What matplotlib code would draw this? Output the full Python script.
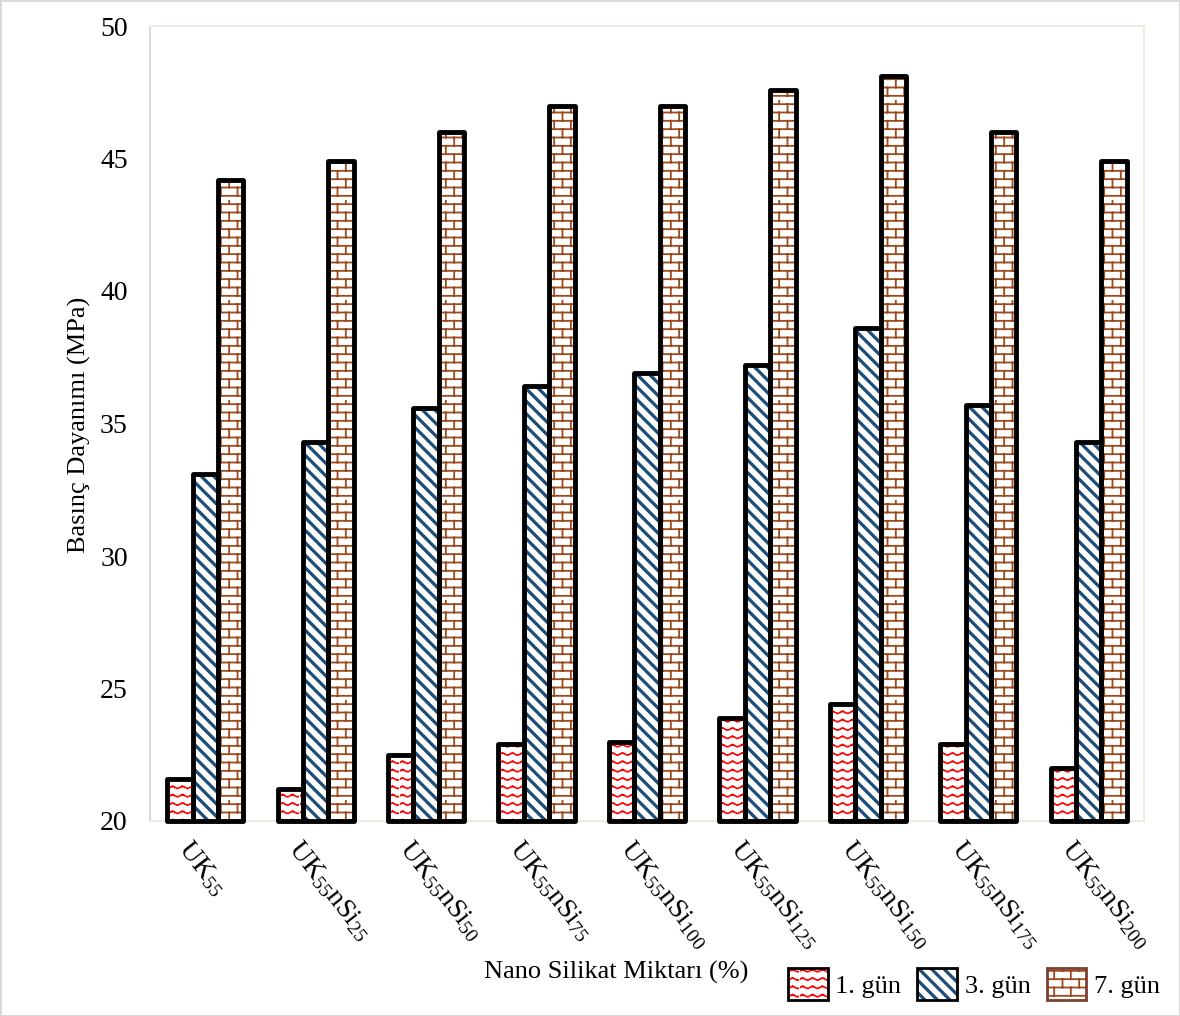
import numpy as np
import matplotlib
matplotlib.use('Agg')
import matplotlib.pyplot as plt
import matplotlib.hatch as mhatch
import matplotlib.transforms as mtransforms
from matplotlib.patches import Patch
from matplotlib.path import Path

## Data
groups = [r'UK$_{55}$', r'UK$_{55}$nSi$_{25}$', r'UK$_{55}$nSi$_{50}$', r'UK$_{55}$nSi$_{75}$',
          r'UK$_{55}$nSi$_{100}$', r'UK$_{55}$nSi$_{125}$', r'UK$_{55}$nSi$_{150}$',
          r'UK$_{55}$nSi$_{175}$', r'UK$_{55}$nSi$_{200}$']
gun1 = [21.6, 21.2, 22.5, 22.9, 23.0, 23.9, 24.4, 22.9, 22.0]
gun3 = [33.1, 34.3, 35.6, 36.4, 36.9, 37.2, 38.6, 35.7, 34.3]
gun7 = [44.2, 44.9, 46.0, 47.0, 47.0, 47.6, 48.1, 46.0, 44.9]
series_labels = ['1. gün', '3. gün', '7. gün']
yticks = [20, 25, 30, 35, 40, 45, 50]


## Custom hatch patterns (wave / thick stripe / brick), unit square = 1 inch tile
class _ListHatch(mhatch.HatchPatternBase):
    char = None

    def __init__(self, hatch, density):
        self.verts = np.empty((0, 2))
        self.codes = np.empty(0, dtype=Path.code_type)
        if hatch.count(self.char):
            v, c = self.build()
            self.verts = np.asarray(v, float)
            self.codes = np.asarray(c, dtype=Path.code_type)
        self.num_vertices = len(self.verts)

    def set_vertices_and_codes(self, vertices, codes):
        vertices[:] = self.verts
        codes[:] = self.codes


class WaveHatch(_ListHatch):
    char = 'o'

    def build(self):
        v, c = [], []
        rows, per = 12, 10
        amp = 0.011
        for i in range(rows):
            y0 = (i + 0.5) / rows
            for k in range(per):
                # upper arc, broken in two dashes
                for t in (np.linspace(0.0, 0.22, 3), np.linspace(0.28, 0.5, 3)):
                    xs = (k + t) / per
                    ys = y0 + amp * np.sin(2 * np.pi * t)
                    for j in range(len(t)):
                        v.append((xs[j], ys[j]))
                        c.append(Path.MOVETO if j == 0 else Path.LINETO)
                # short dash at bottom
                v.append(((k + 0.68) / per, y0 - amp * 0.7))
                c.append(Path.MOVETO)
                v.append(((k + 0.82) / per, y0 - amp * 0.7))
                c.append(Path.LINETO)
        return v, c


class StripeHatch(_ListHatch):
    char = 'O'

    def build(self):
        v, c = [], []
        n = 8
        for k in range(-n, n + 1):
            for d in (-0.01, 0.0, 0.01):
                x0 = k / n + d
                v += [(x0, 1.0), (x0 + 1.0, 0.0)]
                c += [Path.MOVETO, Path.LINETO]
        return v, c


class BrickHatch(_ListHatch):
    char = '*'

    def build(self):
        v, c = [], []
        rows, cols = 12, 6
        for i in range(rows):
            y = (i + 0.5) / rows
            v += [(0.0, y), (1.0, y)]
            c += [Path.MOVETO, Path.LINETO]
        for i in range(rows):
            ya = (i + 0.5) / rows
            yb = (i + 1.5) / rows
            for j in range(cols):
                x = (j + 0.25 + 0.5 * (i % 2)) / cols
                v += [(x, ya), (x, yb)]
                c += [Path.MOVETO, Path.LINETO]
        return v, c


mhatch._hatch_types = [mhatch.HorizontalHatch, mhatch.VerticalHatch,
                       mhatch.NorthEastHatch, mhatch.SouthEastHatch,
                       WaveHatch, StripeHatch, BrickHatch]

plt.rcParams['font.family'] = ['Liberation Serif', 'DejaVu Serif']
plt.rcParams['mathtext.fontset'] = 'custom'
plt.rcParams['mathtext.rm'] = 'Liberation Serif'
plt.rcParams['mathtext.it'] = 'Liberation Serif:italic'
plt.rcParams['hatch.linewidth'] = 1.3

hatches = ['o', 'O', '*']
hcolors = ['#ff0000', '#1f4e79', '#9a4a1c']
FS = 19

fig = plt.figure(figsize=(11.8, 10.16), dpi=100)
fig.patch.set_edgecolor('#d9d9d9')
fig.patch.set_linewidth(2)
ax = fig.add_axes([150 / 1180, 195 / 1016, 994 / 1180, 795 / 1016])

x = np.arange(len(groups))
w = 0.23
base = 20
for i, vals in enumerate([gun1, gun3, gun7]):
    pos = x + (i - 1) * w
    h = [v - base for v in vals]
    ax.bar(pos, h, w, bottom=base, color='white', edgecolor=hcolors[i],
           linewidth=0, hatch=hatches[i], zorder=2)
    ax.bar(pos, h, w, bottom=base, fill=False, edgecolor='black',
           linewidth=3.5, joinstyle='round', clip_on=False, zorder=3)

ax.set_xlim(-0.5, len(groups) - 0.5)
ax.set_ylim(20, 50)
ax.set_yticks(yticks)
ax.tick_params(axis='y', length=0, pad=16, labelsize=FS + 1)
ax.tick_params(axis='x', length=0, pad=11, labelsize=FS + 1)
ax.set_xticks(x)
ax.set_xticklabels(groups, rotation=-52, ha='left', va='top', rotation_mode='anchor')
off = mtransforms.ScaledTranslation(-12 / 100, 0, fig.dpi_scale_trans)
for lab in ax.get_xticklabels():
    lab.set_transform(lab.get_transform() + off)

ax.spines['left'].set_color('#d9d9d9')
for s in ['top', 'right', 'bottom']:
    ax.spines[s].set_color('#eeece1')
for s in ax.spines.values():
    s.set_linewidth(1.5)

fig.text(79 / 1180, 1 - 425 / 1016, 'Basınç Dayanımı (MPa)', rotation=90,
         ha='center', va='center', fontsize=FS)
fig.text(484 / 1180, 1 - 972 / 1016, 'Nano Silikat Miktarı (%)',
         ha='left', va='center', fontsize=FS)

outline = ['black', 'black', '#7a4030']
handles = []
for i in range(3):
    handles.append((Patch(facecolor='white', edgecolor=hcolors[i], hatch=hatches[i], linewidth=0),
                    Patch(fill=False, edgecolor=outline[i], linewidth=2.0)))
fig.legend(handles, series_labels, loc='lower right', ncol=3, frameon=False,
           bbox_to_anchor=(1160 / 1180, 16 / 1016), fontsize=FS,
           handlelength=1.5, handleheight=1.5, handletextpad=0.3,
           columnspacing=0.6, borderaxespad=0, borderpad=0)

fig.savefig('out.png', dpi=100)
